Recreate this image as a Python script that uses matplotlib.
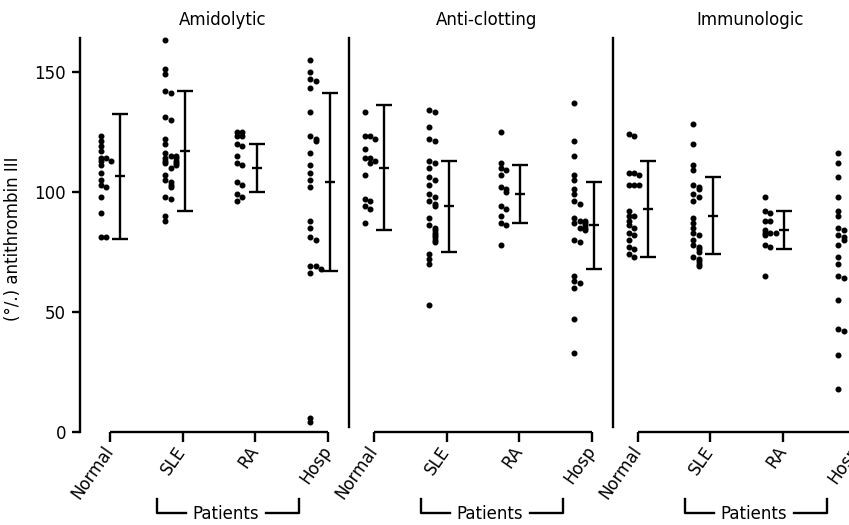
import matplotlib
matplotlib.use("Agg")
import matplotlib.pyplot as plt
import matplotlib.transforms as mtransforms
import numpy as np

panels = ["Amidolytic", "Anti-clotting", "Immunologic"]
groups = ["Normal", "SLE", "RA", "Hosp"]

# individual values (% antithrombin III)
amido_normal = [123, 121, 119, 117, 114, 114, 113, 113, 111, 108, 105, 103, 102, 98, 91, 81, 81]
amido_sle = [163, 151, 149, 142, 141, 131, 130, 122, 120, 116, 115, 115, 114, 114, 113, 113,
             112, 112, 111, 110, 107, 105, 104, 103, 102, 98, 97, 90, 88]
amido_ra = [125, 125, 123, 123, 120, 119, 115, 112, 111, 104, 103, 99, 98, 96]
amido_hosp = [155, 150, 147, 146, 143, 133, 123, 122, 121, 116, 111, 108, 105, 102,
              88, 85, 81, 80, 69, 69, 68, 66, 6, 4]

clot_normal = [133, 123, 123, 122, 118, 114, 114, 113, 112, 107, 97, 96, 94, 93, 87]
clot_sle = [134, 133, 127, 122, 121, 113, 112, 110, 106, 105, 103, 99, 98, 96, 95, 94,
            89, 86, 85, 84, 83, 82, 81, 80, 79, 74, 72, 70, 53]
clot_ra = [125, 112, 110, 109, 107, 102, 101, 100, 94, 93, 90, 87, 86, 78]
clot_hosp = [137, 121, 115, 107, 105, 101, 99, 96, 95, 89, 88, 88, 87, 87, 86, 85, 85, 84,
             80, 79, 65, 63, 62, 60, 47, 33]

immuno_normal = [124, 123, 108, 108, 107, 103, 103, 103, 92, 90, 90, 88, 86, 85, 83, 82,
                 80, 77, 76, 74, 73]
immuno_sle = [128, 120, 111, 109, 103, 102, 101, 99, 98, 96, 89, 87, 85, 83, 82, 80,
              78, 77, 76, 75, 73, 72, 71, 70, 69]
immuno_ra = [98, 92, 91, 88, 88, 84, 83, 83, 83, 82, 78, 77, 65]
immuno_hosp = [116, 112, 106, 98, 92, 90, 85, 84, 82, 81, 80, 78, 73, 70, 65, 64, 55,
               43, 42, 32, 18]

# mean +/- SD bars
amido_mean = [106.5, 117, 110, 104]
amido_sd = [26, 25, 10, 37]
clot_mean = [110, 94, 99, 86]
clot_sd = [26, 19, 12, 18]
immuno_mean = [93, 90, 84, 75]
immuno_sd = [20, 16, 8, 22]

panel_data = [
    ([amido_normal, amido_sle, amido_ra, amido_hosp], amido_mean, amido_sd),
    ([clot_normal, clot_sle, clot_ra, clot_hosp], clot_mean, clot_sd),
    ([immuno_normal, immuno_sle, immuno_ra, immuno_hosp], immuno_mean, immuno_sd),
]

STEP = 3.64      # distance between panels in group units
BAR_SHIFT = np.array([0.14, 0.03, 0.02, 0.03])   # bars sit a little right of the ticks
LW = 1.7
FS = 12

plt.rcParams["font.family"] = ["DejaVu Sans"]

fig = plt.figure(figsize=(8.49, 5.25), dpi=100)
ax = fig.add_axes([80 / 849, 93 / 525, 864 / 849, 394 / 525])
ax.set_xlim(-0.414, 11.5)
ax.set_ylim(0, 164)

for s in ["top", "right", "bottom"]:
    ax.spines[s].set_visible(False)
ax.spines["left"].set_linewidth(LW)

top_trans = mtransforms.blended_transform_factory(ax.transData, ax.transAxes)
fig_trans = mtransforms.blended_transform_factory(ax.transData, fig.transFigure)

xticks = []
for p, (groups_vals, means, sds) in enumerate(panel_data):
    base = p * STEP
    pos = base + np.arange(len(groups))
    xticks.extend(pos)
    bar_x = pos + BAR_SHIFT
    for g, vals in enumerate(groups_vals):
        xs, placed = [], []
        ys = sorted(vals, reverse=True)
        for v in ys:
            k = sum(1 for u in placed if abs(u - v) < 1.6)
            xs.append(bar_x[g] - 0.27 + (k % 3) * 0.075)
            placed.append(v)
        ax.plot(xs, ys, "o", ms=3.3, color="black", ls="none", clip_on=False)
    ax.errorbar(bar_x, means, yerr=sds, fmt="none", ecolor="black", elinewidth=LW,
                capsize=5.5, capthick=LW)
    ax.plot(bar_x, means, "_", ms=7, mew=LW, color="black")

    # x-axis bracket for this panel
    ax.plot([pos[0], pos[-1]], [0, 0], color="black", lw=LW, clip_on=False,
            solid_capstyle="butt")
    # panel title
    ax.text(base + 1.55, 1.046, panels[p], transform=top_trans, ha="center",
            va="center", fontsize=FS)
    # divider
    if p > 0:
        ax.plot([base - 0.35] * 2, [2, 164], color="black", lw=LW, clip_on=False)
    # "Patients" bracket
    y_hi, y_lo = 26 / 525, 12 / 525
    ax.plot([base + 0.65, base + 0.65, base + 1.05], [y_hi, y_lo, y_lo],
            transform=fig_trans, color="black", lw=LW, clip_on=False)
    ax.plot([base + 2.15, base + 2.6, base + 2.6], [y_lo, y_lo, y_hi],
            transform=fig_trans, color="black", lw=LW, clip_on=False)
    ax.text(base + 1.6, 2 / 525, "Patients", transform=fig_trans, ha="center",
            va="bottom", fontsize=FS)

ax.set_xticks(xticks)
ax.set_xticklabels(groups * 3, rotation=55, ha="right", va="center",
                   rotation_mode="anchor", fontsize=FS)
ax.tick_params(axis="x", direction="out", length=7.5, width=LW, pad=4)

ax.set_yticks([0, 50, 100, 150])
ax.tick_params(axis="y", direction="out", length=6, width=LW, pad=4, labelsize=FS)
ax.set_ylabel("(°/.) antithrombin III", fontsize=FS)
ax.yaxis.set_label_coords(-0.067, 0.49)

fig.savefig("out.png", dpi=100)
